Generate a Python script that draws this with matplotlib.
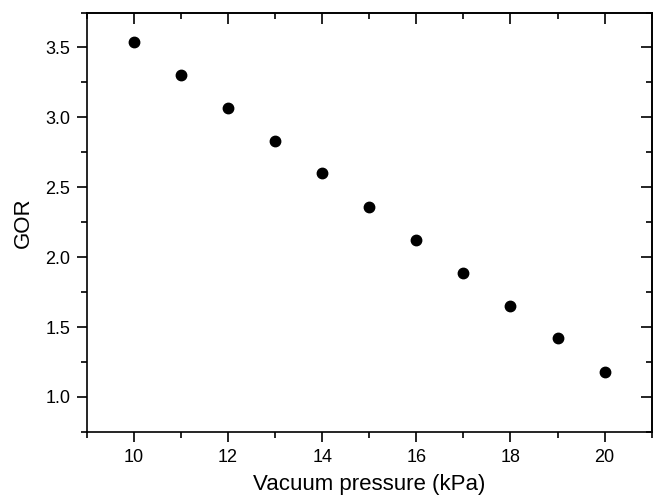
import matplotlib
matplotlib.use("Agg")
import matplotlib.pyplot as plt
from matplotlib.ticker import MultipleLocator

plt.rcParams['font.family'] = ['Liberation Sans', 'DejaVu Sans']

pressure = [10, 11, 12, 13, 14, 15, 16, 17, 18, 19, 20]
gor = [3.54, 3.30, 3.07, 2.83, 2.60, 2.36, 2.12, 1.89, 1.65, 1.42, 1.18]

fig = plt.figure(figsize=(6.53, 5.01), dpi=100)
ax = fig.add_axes([0.133, 0.138, 0.865, 0.837])
ax.plot(pressure, gor, 'o', color='black', markersize=7.5)
ax.set_xlim(9, 21)
ax.set_ylim(0.75, 3.75)
ax.xaxis.set_major_locator(MultipleLocator(2))
ax.xaxis.set_minor_locator(MultipleLocator(1))
ax.yaxis.set_major_locator(MultipleLocator(0.5))
ax.yaxis.set_minor_locator(MultipleLocator(0.25))
ax.tick_params(which='both', direction='out', top=False, right=False, labelsize=13, width=1.2)
ax.tick_params(which='major', length=7, pad=5)
ax.tick_params(which='minor', length=4)
ax.set_yticks([1.0, 1.5, 2.0, 2.5, 3.0, 3.5])
ax.set_yticklabels(['1.0', '1.5', '2.0', '2.5', '3.0', '3.5'])
ax.set_xticks([10, 12, 14, 16, 18, 20])
# inward ticks on top and right
secx = ax.secondary_xaxis('top')
secx.xaxis.set_major_locator(MultipleLocator(2))
secx.xaxis.set_minor_locator(MultipleLocator(1))
secx.tick_params(which='both', direction='in', labeltop=False, width=1.2)
secx.tick_params(which='major', length=8)
secx.tick_params(which='minor', length=4.5)
secy = ax.secondary_yaxis('right')
secy.yaxis.set_major_locator(MultipleLocator(0.5))
secy.yaxis.set_minor_locator(MultipleLocator(0.25))
secy.tick_params(which='both', direction='in', labelright=False, width=1.2)
secy.tick_params(which='major', length=8)
secy.tick_params(which='minor', length=4.5)
for s in ax.spines.values():
    s.set_linewidth(1.2)
secx.spines['top'].set_linewidth(1.2)
secy.spines['right'].set_linewidth(1.2)
ax.set_xlabel('Vacuum pressure (kPa)', fontsize=16, labelpad=6)
ax.set_ylabel('GOR', fontsize=16, labelpad=8)
fig.savefig('out.png', dpi=100)
